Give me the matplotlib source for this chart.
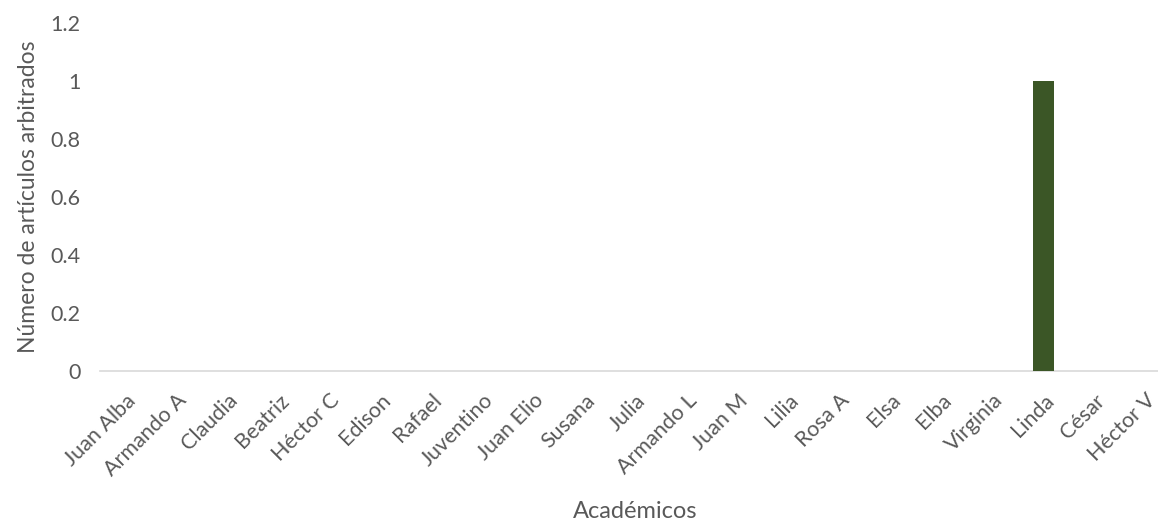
import matplotlib.pyplot as plt
from matplotlib.ticker import FuncFormatter

academicos = ["Juan Alba", "Armando A", "Claudia", "Beatriz", "Héctor C", "Edison",
              "Rafael", "Juventino", "Juan Elio", "Susana", "Julia", "Armando L",
              "Juan M", "Lilia", "Rosa A", "Elsa", "Elba", "Virginia", "Linda",
              "César", "Héctor V"]
articulos = [0, 0, 0, 0, 0, 0, 0, 0, 0, 0, 0, 0, 0, 0, 0, 0, 0, 0, 1, 0, 0]
y_ticks = [0, 0.2, 0.4, 0.6, 0.8, 1, 1.2]

plt.rcParams['font.family'] = ['Lato', 'DejaVu Sans']
gris = '#595959'

fig = plt.figure(figsize=(11.58, 5.26), dpi=100)
# axis runs past the right edge like in the original
ax = fig.add_axes([100 / 1158, (526 - 371) / 526, 1071 / 1158, 348 / 526])

x = range(len(academicos))
ax.bar(x, articulos, width=0.41, color='#3B5626', zorder=3)

ax.set_xlim(-0.5, len(academicos) - 0.5)
ax.set_ylim(0, 1.2)
ax.set_yticks(y_ticks)
ax.yaxis.set_major_formatter(FuncFormatter(lambda v, p: f"{v:g}"))
ax.set_xticks(list(x))
ax.set_xticklabels(academicos, rotation=45, ha='right', rotation_mode='anchor')

for s in ['top', 'right', 'left']:
    ax.spines[s].set_visible(False)
ax.spines['bottom'].set_color('#d9d9d9')
ax.spines['bottom'].set_linewidth(1.2)
ax.tick_params(axis='both', length=0, labelsize=15.5, labelcolor=gris)
ax.tick_params(axis='y', pad=14)
ax.tick_params(axis='x', pad=14)

ax.set_ylabel("Número de artículos arbitrados", fontsize=16.5, color=gris, labelpad=8)
fig.text(635 / 1158, 1 - 511 / 526, "Académicos", fontsize=17, color=gris,
         ha='center', va='center')

plt.savefig("out.png", dpi=100)
plt.close()
